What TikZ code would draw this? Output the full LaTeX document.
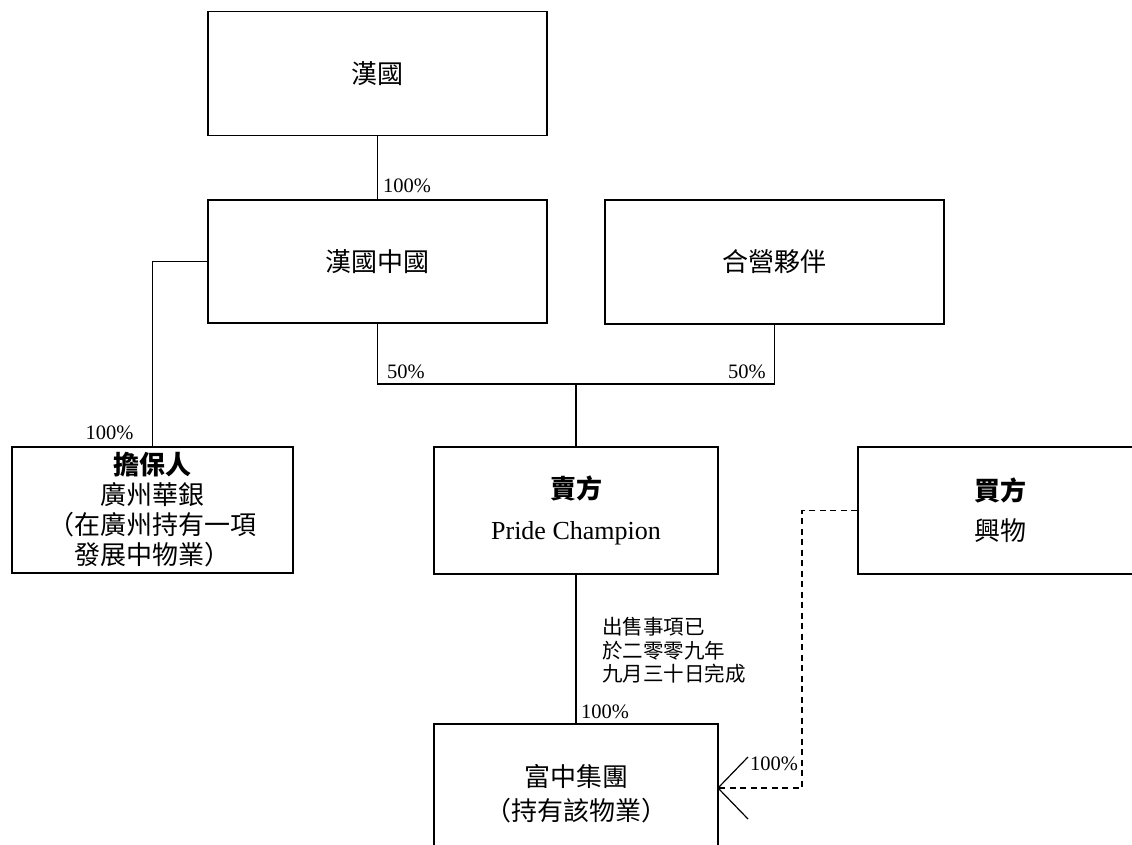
\documentclass[tikz,border=0pt]{standalone}
\usepackage{fontspec}
\setmainfont{Liberation Serif}
\newfontfamily\cjk{Noto Sans CJK TC}
\usetikzlibrary{calc}
\tikzset{
  box/.style={draw, line width=1.2pt, rectangle, inner sep=0pt, align=center},
  boxtxt/.style={font=\fontsize{26}{30}\selectfont},
  pct/.style={inner sep=0pt, font=\fontsize{20.5}{24}\selectfont},
  note/.style={inner sep=0pt, align=left, font=\fontsize{20.5}{23.5}\selectfont\cjk},
  conn/.style={line width=1.2pt},
  dconn/.style={line width=1.2pt, dash pattern=on 6pt off 4.5pt},
}
\begin{document}
\begin{tikzpicture}[x=1pt,y=-1pt]
\path[use as bounding box, fill=white] (0,0) rectangle (1132,845);
\clip (0,0) rectangle (1132,845);

% boxes
\node[box, boxtxt, minimum width=339pt, minimum height=124pt] (hg) at (377.5,73.5) {\cjk 漢國};
\node[box, boxtxt, minimum width=339pt, minimum height=123pt] (hgc) at (377.5,261.5) {\cjk 漢國中國};
\node[box, boxtxt, minimum width=339pt, minimum height=124pt] (jv) at (774.5,262) {\cjk 合營夥伴};
\node[box, minimum width=281pt, minimum height=126pt, font=\fontsize{26}{30}\selectfont\cjk] (guar) at (152.5,510)
  {{\bfseries 擔保人}\\廣州華銀\\（在廣州持有一項\\發展中物業）};
\node[box, minimum width=284pt, minimum height=127pt, font=\fontsize{26}{41}\selectfont] (seller) at (576,510.5)
  {{\cjk\bfseries 賣方}\\Pride Champion};
\node[box, minimum width=284pt, minimum height=127pt, font=\fontsize{26}{40}\selectfont\cjk] (buyer) at (1000,510.5)
  {{\bfseries 買方}\\興物};
\node[box, minimum width=284pt, minimum height=139pt, font=\fontsize{26}{34}\selectfont\cjk] (fz) at (576,793.5)
  {富中集團\\（持有該物業）};

% coordinates
\coordinate (jl) at (377.5,384);
\coordinate (jm) at (576,384);
\coordinate (jr) at (774.5,384);
\coordinate (dc) at (802,788);
\coordinate (tip) at (718,788);

% connectors
\draw[conn] (hg.south) -- (hgc.north);
\draw[conn] (hgc.west) -| (guar.north);
\draw[conn] (hgc.south) -- (jl) -- (jr) -- (jv.south);
\draw[conn] (jm) -- (seller.north);
\draw[conn] (seller.south) -- (fz.north);
\draw[dconn] (buyer.west) -| (dc) -- (tip);
\draw[conn] ([shift={(30,-31)}]tip) -- (tip) -- ([shift={(30,31)}]tip);

% labels
\node[pct, anchor=west] (p1) at (383,186) {100\%};
\node[pct] (p2) at (109.5,433) {100\%};
\node[pct, anchor=west] (p3) at (387,372) {50\%};
\node[pct, anchor=east] (p4) at (766,372) {50\%};
\node[note, anchor=west] (n1) at (602,650.5) {出售事項已\\於二零零九年\\九月三十日完成};
\node[pct, anchor=west] (p5) at (581,712) {100\%};
\node[pct, anchor=west] (p6) at (750,764) {100\%};
\end{tikzpicture}
\end{document}
